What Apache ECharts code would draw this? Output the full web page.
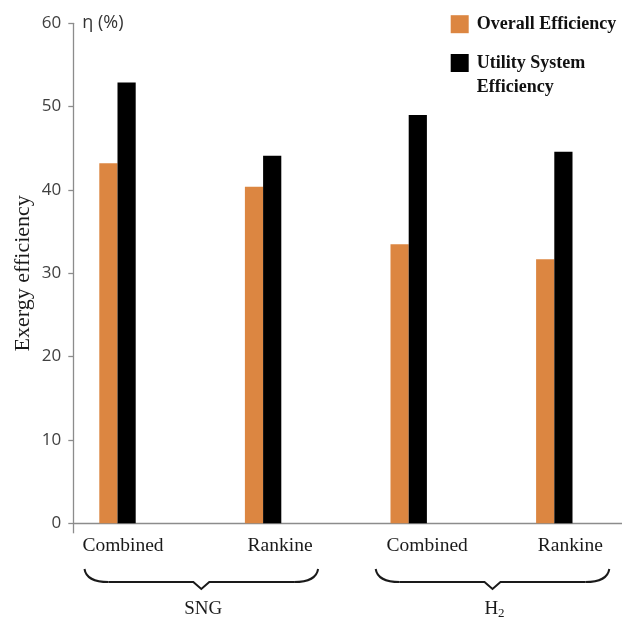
<!DOCTYPE html>
<html>
<head>
<meta charset="utf-8">
<script src="https://cdn.jsdelivr.net/npm/echarts@6/dist/echarts.min.js"></script>
<style>
  html, body { margin: 0; padding: 0; background: #ffffff; }
  #chart { width: 622px; height: 617px; }
</style>
</head>
<body>
<div id="chart"></div>
<script>
// Exergy efficiency of the SNG and H2 production routes
const categories = ['Combined', 'Rankine', 'Combined', 'Rankine'];
const groupNames = ['SNG', 'H2'];
const groupMembers = [[0, 1], [2, 3]];
const seriesNames = ['Overall Efficiency', 'Utility System Efficiency'];
const overallEfficiency = [43.2, 40.4, 33.5, 31.7];
const utilityEfficiency = [52.9, 44.1, 49.0, 44.6];
const yMin = 0, yMax = 60, yStep = 10;

// left padding that nudges each category label to the right of its bars
const labelNudge = [11, 34, 37, 32];

const AXIS_GREY = '#8c8c8c';
const SERIF = '"Liberation Serif", "Times New Roman", serif';
const SANS = '"Open Sans", "Noto Sans", sans-serif';

const chart = echarts.init(document.getElementById('chart'), null, { renderer: 'canvas' });

const categoryData = categories.map(function (c, i) {
  return { value: c, textStyle: { padding: [0, 0, 0, labelNudge[i]] } };
});

const option = {
  animation: false,
  backgroundColor: '#ffffff',
  grid: [
    { left: 44.7, top: 23.3, width: 582.4, height: 500, outerBoundsMode: 'none' },
    { left: 73.3, top: 23.3, right: 0, height: 500, outerBoundsMode: 'none' }
  ],
  legend: {
    orient: 'vertical',
    left: 450.7,
    top: 12.2,
    padding: 0,
    itemWidth: 18,
    itemHeight: 18,
    itemGap: -9.2,
    icon: 'rect',
    selectedMode: false,
    textStyle: { fontFamily: SERIF, fontWeight: 'bold', fontSize: 18, color: '#111111', lineHeight: 24, padding: [0, 0, 0, 3] },
    data: [seriesNames[0], seriesNames[1]],
    formatter: function (name) {
      // the wrapped name keeps its first line level with the swatch
      return name === seriesNames[1] ? '\nUtility System\nEfficiency' : name;
    }
  },
  xAxis: [
    {
      type: 'category',
      gridIndex: 0,
      data: categoryData,
      axisLine: { show: false },
      axisTick: { show: false },
      axisLabel: {
        margin: 13,
        fontFamily: SERIF,
        fontSize: 19.5,
        color: '#1a1a1a'
      }
    },
    {
      type: 'value',
      gridIndex: 1,
      min: 0,
      max: 1,
      axisLine: { show: true, lineStyle: { color: AXIS_GREY, width: 1.3 } },
      axisTick: { show: true, customValues: [0], length: 10, lineStyle: { color: AXIS_GREY, width: 1.3 } },
      axisLabel: { show: false },
      splitLine: { show: false }
    }
  ],
  yAxis: [
    {
      type: 'value',
      gridIndex: 0,
      min: yMin,
      max: yMax,
      interval: yStep,
      axisLine: { show: false },
      axisTick: { show: false },
      axisLabel: { show: false },
      splitLine: { show: false },
      name: 'Exergy efficiency',
      nameLocation: 'middle',
      nameGap: 10,
      nameTextStyle: { fontFamily: SERIF, fontSize: 22, color: '#1a1a1a' }
    },
    {
      type: 'value',
      gridIndex: 1,
      min: yMin,
      max: yMax,
      interval: yStep,
      axisLine: { show: true, lineStyle: { color: AXIS_GREY, width: 1.3 } },
      axisTick: { show: true, length: 5, lineStyle: { color: AXIS_GREY, width: 1.3 } },
      axisLabel: { margin: 12, fontFamily: SANS, fontSize: 17, color: '#404040' },
      splitLine: { show: false },
      name: 'η (%)',
      nameLocation: 'end',
      nameGap: 0,
      nameTextStyle: {
        align: 'left',
        verticalAlign: 'middle',
        padding: [0, 0, 0, 9],
        fontFamily: SANS,
        fontSize: 18,
        color: '#333333'
      }
    }
  ],
  series: [
    {
      name: seriesNames[0],
      type: 'bar',
      xAxisIndex: 0,
      yAxisIndex: 0,
      data: overallEfficiency,
      barWidth: 18.2,
      barGap: '0%',
      itemStyle: { color: '#DC8641' }
    },
    {
      name: seriesNames[1],
      type: 'bar',
      xAxisIndex: 0,
      yAxisIndex: 0,
      data: utilityEfficiency,
      barWidth: 18.2,
      barGap: '0%',
      itemStyle: { color: '#000000' }
    }
  ]
};

chart.setOption(option);

// Curly braces under each pair of categories, with the group name beneath
const BRACE_TOP = 569, BRACE_FLAT = 582, BRACE_TIP = 589;
const braceStyle = { stroke: '#1a1a1a', lineWidth: 2, fill: null };
const graphics = [];
groupMembers.forEach(function (members, g) {
  const x0 = chart.convertToPixel({ xAxisIndex: 0 }, members[0]) - 33;
  const x1 = chart.convertToPixel({ xAxisIndex: 0 }, members[1]) + 55;
  const xm = (x0 + x1) / 2;
  graphics.push({
    type: 'bezierCurve',
    shape: { x1: x0, y1: BRACE_TOP, cpx1: x0 + 2, cpy1: BRACE_FLAT, x2: x0 + 24, y2: BRACE_FLAT },
    style: braceStyle
  });
  graphics.push({
    type: 'polyline',
    shape: { points: [[x0 + 24, BRACE_FLAT], [xm - 8, BRACE_FLAT], [xm, BRACE_TIP], [xm + 8, BRACE_FLAT], [x1 - 24, BRACE_FLAT]] },
    style: braceStyle
  });
  graphics.push({
    type: 'bezierCurve',
    shape: { x1: x1 - 24, y1: BRACE_FLAT, cpx1: x1 - 2, cpy1: BRACE_FLAT, x2: x1, y2: BRACE_TOP },
    style: braceStyle
  });
  const label = groupNames[g] === 'H2' ? '{m|H}{s|2}' : '{m|' + groupNames[g] + '}';
  graphics.push({
    type: 'text',
    x: xm + 2,
    y: 609,
    style: {
      text: label,
      align: 'center',
      verticalAlign: 'middle',
      rich: {
        m: { fontFamily: SERIF, fontSize: 19, fill: '#1a1a1a' },
        s: { fontFamily: SERIF, fontSize: 13, fill: '#1a1a1a', padding: [10, 0, 0, 0] }
      }
    }
  });
});
chart.setOption({ graphic: graphics });
</script>
</body>
</html>
